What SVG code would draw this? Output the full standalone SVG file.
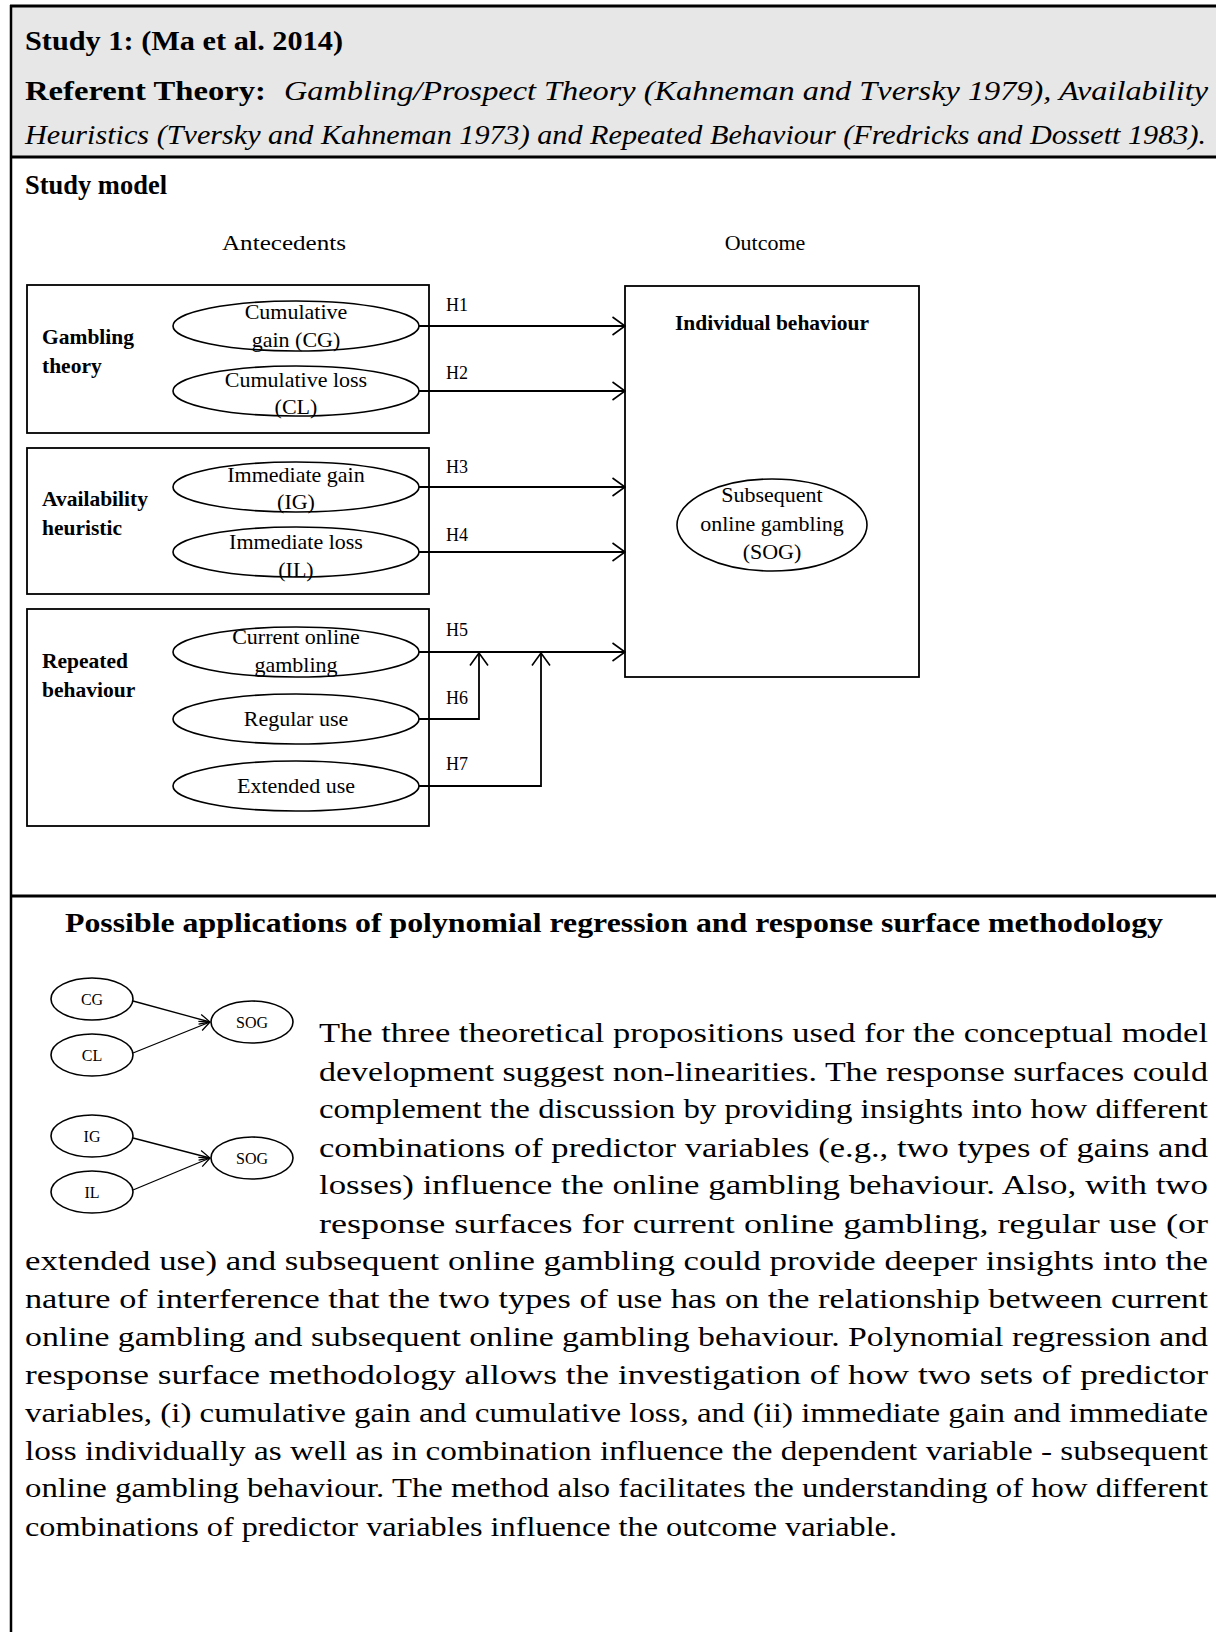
<svg xmlns="http://www.w3.org/2000/svg" width="1216" height="1632" viewBox="0 0 1216 1632">
  <style>
    .frame { stroke: #000; stroke-width: 3; fill: none; }
    .box { stroke: #000; stroke-width: 1.8; fill: #fff; }
    .ell { stroke: #000; stroke-width: 1.6; fill: #fff; }
    .conn { stroke: #000; stroke-width: 1.8; fill: none; }
    .connSm { stroke: #000; stroke-width: 1.3; fill: none; }
    .hd { font-family: "Liberation Serif", serif; font-size: 27px; fill: #000; }
    .b { font-weight: bold; }
    .i { font-style: italic; }
    .dg { font-family: "Liberation Serif", serif; font-size: 22px; fill: #000; }
    .grp { font-family: "Liberation Serif", serif; font-size: 21.5px; font-weight: bold; fill: #000; }
    .hl { font-family: "Liberation Serif", serif; font-size: 18px; fill: #000; }
    .sm { font-family: "Liberation Serif", serif; font-size: 16px; fill: #000; text-anchor: middle; }
    .para { font-family: "Liberation Serif", serif; font-size: 27px; fill: #000; }
    .mid { text-anchor: middle; }
  </style>
  <defs>
    <marker id="open" viewBox="0 0 14 20" refX="13.5" refY="10" markerWidth="14" markerHeight="20" orient="auto" markerUnits="userSpaceOnUse">
      <path d="M1,1 L13.5,10 L1,19" fill="none" stroke="#000" stroke-width="1.6"/>
    </marker>
    <marker id="openSm" viewBox="0 0 12 12" refX="11.5" refY="6" markerWidth="12" markerHeight="12" orient="auto" markerUnits="userSpaceOnUse">
      <path d="M1,1 L11.5,6 L1,11" fill="none" stroke="#000" stroke-width="1.3"/>
    </marker>
  </defs>

  <rect width="1216" height="1632" fill="#fff"/>

  <!-- table frame -->
  <g id="frame">
    <rect x="11" y="6" width="1205" height="151" fill="#e7e7e7"/>
    <line class="frame" x1="10" y1="6" x2="1216" y2="6"/>
    <line class="frame" x1="10" y1="157" x2="1216" y2="157"/>
    <line class="frame" x1="10" y1="896" x2="1216" y2="896"/>
    <line x1="11" y1="5" x2="11" y2="1632" stroke="#000" stroke-width="2.5"/>
  </g>

  <!-- header -->
  <g id="header">
    <text class="hd b" x="25" y="50" textLength="318" lengthAdjust="spacingAndGlyphs">Study 1: (Ma et al. 2014)</text>
    <text class="hd b" x="25" y="100" textLength="241" lengthAdjust="spacingAndGlyphs">Referent Theory:</text>
    <text class="hd i" x="284" y="100" textLength="924" lengthAdjust="spacingAndGlyphs">Gambling/Prospect Theory (Kahneman and Tversky 1979), Availability</text>
    <text class="hd i" x="25" y="144" textLength="1181" lengthAdjust="spacingAndGlyphs">Heuristics (Tversky and Kahneman 1973) and Repeated Behaviour (Fredricks and Dossett 1983).</text>
    <text class="hd b" x="25" y="194" textLength="142" lengthAdjust="spacingAndGlyphs">Study model</text>
  </g>

  <!-- column captions -->
  <text class="dg mid" x="284" y="250" textLength="124" lengthAdjust="spacingAndGlyphs">Antecedents</text>
  <text class="dg mid" x="765" y="250">Outcome</text>

  <!-- antecedent groups -->
  <g id="gambling-theory">
    <rect class="box" x="27" y="285" width="402" height="148"/>
    <text class="grp" x="42" y="344">Gambling</text>
    <text class="grp" x="42" y="373">theory</text>
  </g>
  <g id="availability-heuristic">
    <rect class="box" x="27" y="448" width="402" height="146"/>
    <text class="grp" x="42" y="506">Availability</text>
    <text class="grp" x="42" y="535">heuristic</text>
  </g>
  <g id="repeated-behaviour">
    <rect class="box" x="27" y="609" width="402" height="217"/>
    <text class="grp" x="42" y="668">Repeated</text>
    <text class="grp" x="42" y="697">behaviour</text>
  </g>

  <g id="cg">
    <ellipse class="ell" cx="296" cy="326" rx="123" ry="25"/>
    <text class="dg mid" x="296" y="319">Cumulative</text>
    <text class="dg mid" x="296" y="347">gain (CG)</text>
  </g>
  <g id="cl">
    <ellipse class="ell" cx="296" cy="391" rx="123" ry="25"/>
    <text class="dg mid" x="296" y="387">Cumulative loss</text>
    <text class="dg mid" x="296" y="414">(CL)</text>
  </g>
  <g id="ig">
    <ellipse class="ell" cx="296" cy="487" rx="123" ry="25"/>
    <text class="dg mid" x="296" y="482">Immediate gain</text>
    <text class="dg mid" x="296" y="509">(IG)</text>
  </g>
  <g id="il">
    <ellipse class="ell" cx="296" cy="552" rx="123" ry="25"/>
    <text class="dg mid" x="296" y="549">Immediate loss</text>
    <text class="dg mid" x="296" y="577">(IL)</text>
  </g>
  <g id="cog">
    <ellipse class="ell" cx="296" cy="652" rx="123" ry="25"/>
    <text class="dg mid" x="296" y="644">Current online</text>
    <text class="dg mid" x="296" y="672">gambling</text>
  </g>
  <g id="regular-use">
    <ellipse class="ell" cx="296" cy="719" rx="123" ry="25"/>
    <text class="dg mid" x="296" y="726">Regular use</text>
  </g>
  <g id="extended-use">
    <ellipse class="ell" cx="296" cy="786" rx="123" ry="25"/>
    <text class="dg mid" x="296" y="793">Extended use</text>
  </g>

  <!-- outcome -->
  <g id="individual-behaviour">
    <rect class="box" x="625" y="286" width="294" height="391"/>
    <text class="grp mid" x="772" y="330">Individual behaviour</text>
  </g>
  <g id="sog">
    <ellipse class="ell" cx="772" cy="525" rx="95" ry="46"/>
    <text class="dg mid" x="772" y="502">Subsequent</text>
    <text class="dg mid" x="772" y="531">online gambling</text>
    <text class="dg mid" x="772" y="559">(SOG)</text>
  </g>

  <!-- hypothesised paths -->
  <g id="connectors">
    <line class="conn" x1="419" y1="326" x2="625" y2="326" marker-end="url(#open)"/>
    <line class="conn" x1="419" y1="391" x2="625" y2="391" marker-end="url(#open)"/>
    <line class="conn" x1="419" y1="487" x2="625" y2="487" marker-end="url(#open)"/>
    <line class="conn" x1="419" y1="552" x2="625" y2="552" marker-end="url(#open)"/>
    <line class="conn" x1="419" y1="652" x2="625" y2="652" marker-end="url(#open)"/>
    <polyline class="conn" points="419,719 479,719 479,653" marker-end="url(#open)"/>
    <polyline class="conn" points="419,786 541,786 541,653" marker-end="url(#open)"/>

    <text class="hl" x="446" y="311">H1</text>
    <text class="hl" x="446" y="379">H2</text>
    <text class="hl" x="446" y="473">H3</text>
    <text class="hl" x="446" y="541">H4</text>
    <text class="hl" x="446" y="636">H5</text>
    <text class="hl" x="446" y="704">H6</text>
    <text class="hl" x="446" y="770">H7</text>

    <!-- small response-surface sketches -->
    <line class="connSm" x1="133" y1="1001" x2="210" y2="1022" marker-end="url(#openSm)"/>
    <line class="connSm" x1="133" y1="1053" x2="210" y2="1022" marker-end="url(#openSm)"/>
    <line class="connSm" x1="133" y1="1138" x2="210" y2="1158" marker-end="url(#openSm)"/>
    <line class="connSm" x1="133" y1="1190" x2="210" y2="1158" marker-end="url(#openSm)"/>
  </g>

  <text class="hd b mid" x="614" y="932" textLength="1098" lengthAdjust="spacingAndGlyphs">Possible applications of polynomial regression and response surface methodology</text>

  <g id="sm-cg"><ellipse class="ell" cx="92" cy="999" rx="41" ry="21"/><text class="sm" x="92" y="1005">CG</text></g>
  <g id="sm-cl"><ellipse class="ell" cx="92" cy="1055" rx="41" ry="21"/><text class="sm" x="92" y="1061">CL</text></g>
  <g id="sm-sog1"><ellipse class="ell" cx="252" cy="1022" rx="41" ry="21"/><text class="sm" x="252" y="1028">SOG</text></g>
  <g id="sm-ig"><ellipse class="ell" cx="92" cy="1136" rx="41" ry="21"/><text class="sm" x="92" y="1142">IG</text></g>
  <g id="sm-il"><ellipse class="ell" cx="92" cy="1192" rx="41" ry="21"/><text class="sm" x="92" y="1198">IL</text></g>
  <g id="sm-sog2"><ellipse class="ell" cx="252" cy="1158" rx="41" ry="21"/><text class="sm" x="252" y="1164">SOG</text></g>

  <!-- discussion paragraph, justified -->
  <g id="paragraph" class="para">
    <text x="319" y="1042" textLength="889" lengthAdjust="spacingAndGlyphs">The three theoretical propositions used for the conceptual model</text>
    <text x="319" y="1081" textLength="889" lengthAdjust="spacingAndGlyphs">development suggest non-linearities. The response surfaces could</text>
    <text x="319" y="1118" textLength="889" lengthAdjust="spacingAndGlyphs">complement the discussion by providing insights into how different</text>
    <text x="319" y="1157" textLength="889" lengthAdjust="spacingAndGlyphs">combinations of predictor variables (e.g., two types of gains and</text>
    <text x="319" y="1194" textLength="889" lengthAdjust="spacingAndGlyphs">losses) influence the online gambling behaviour. Also, with two</text>
    <text x="319" y="1233" textLength="889" lengthAdjust="spacingAndGlyphs">response surfaces for current online gambling, regular use (or</text>
    <text x="25" y="1270" textLength="1183" lengthAdjust="spacingAndGlyphs">extended use) and subsequent online gambling could provide deeper insights into the</text>
    <text x="25" y="1308" textLength="1183" lengthAdjust="spacingAndGlyphs">nature of interference that the two types of use has on the relationship between current</text>
    <text x="25" y="1346" textLength="1183" lengthAdjust="spacingAndGlyphs">online gambling and subsequent online gambling behaviour. Polynomial regression and</text>
    <text x="25" y="1384" textLength="1183" lengthAdjust="spacingAndGlyphs">response surface methodology allows the investigation of how two sets of predictor</text>
    <text x="25" y="1422" textLength="1183" lengthAdjust="spacingAndGlyphs">variables, (i) cumulative gain and cumulative loss, and (ii) immediate gain and immediate</text>
    <text x="25" y="1460" textLength="1183" lengthAdjust="spacingAndGlyphs">loss individually as well as in combination influence the dependent variable - subsequent</text>
    <text x="25" y="1497" textLength="1183" lengthAdjust="spacingAndGlyphs">online gambling behaviour. The method also facilitates the understanding of how different</text>
    <text x="25" y="1536" textLength="872" lengthAdjust="spacingAndGlyphs">combinations of predictor variables influence the outcome variable.</text>
  </g>
</svg>
